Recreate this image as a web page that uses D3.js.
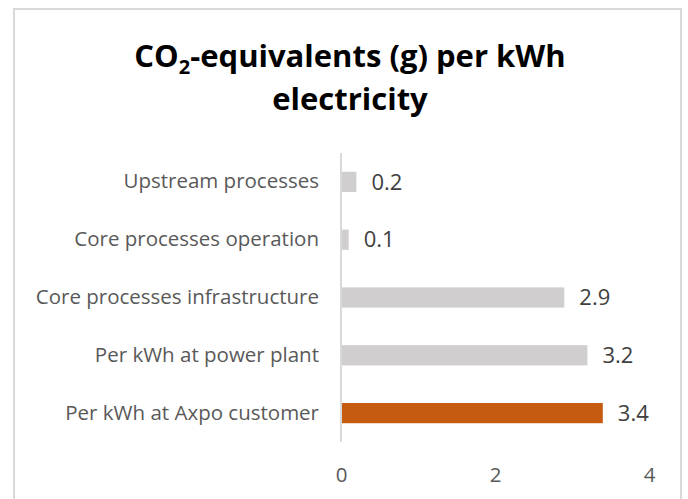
<!DOCTYPE html>
<html>
<head>
<meta charset="utf-8">
<script src="https://cdn.jsdelivr.net/npm/d3@7"></script>
<style>
  body { margin: 0; background: #fff; }
  svg text { font-family: "Open Sans", sans-serif; }
</style>
</head>
<body>
<svg id="chart" width="688" height="499"></svg>
<script>
// chart data, top row first
var categories = [
	"Upstream processes",
	"Core processes operation",
	"Core processes infrastructure",
	"Per kWh at power plant",
	"Per kWh at Axpo customer"
];
var values = [0.2, 0.1, 2.9, 3.2, 3.4];
var barColors = ["#d0cece", "#d0cece", "#d0cece", "#d0cece", "#c55a11"];
var xTicks = [0, 2, 4];

var svg = d3.select("#chart");

// outer chart frame
svg.append("rect")
	.attr("x", 14)
	.attr("y", 9)
	.attr("width", 667)
	.attr("height", 510)
	.attr("fill", "#fff")
	.attr("stroke", "#d9d9d9")
	.attr("stroke-width", 2);

// title, two lines with subscript 2
var title = svg.append("text")
	.attr("text-anchor", "middle")
	.attr("font-weight", 700)
	.attr("font-size", 31)
	.attr("fill", "#000");
var t1 = title.append("tspan").attr("x", 350).attr("y", 67);
t1.append("tspan").text("CO");
t1.append("tspan").attr("font-size", 20).attr("dy", 7).text("2");
t1.append("tspan").attr("dy", -7).text("-equivalents (g) per kWh");
title.append("tspan").attr("x", 350).attr("y", 110).text("electricity");

var x = d3.scaleLinear()
	.domain([0, 4])
	.range([341, 649]);

var y = d3.scaleBand()
	.domain(categories)
	.range([153, 442])
	.paddingInner(0.65)
	.paddingOuter(0.325);

var rows = categories.map(function(c, i) {
	return { name: c, value: values[i], color: barColors[i] };
});

svg.selectAll("rect.bar")
	.data(rows)
	.enter().append("rect")
	.attr("class", "bar")
	.attr("x", x(0))
	.attr("y", function(d) { return y(d.name); })
	.attr("width", function(d) { return x(d.value) - x(0); })
	.attr("height", y.bandwidth())
	.attr("fill", function(d) { return d.color; });

// value labels
svg.selectAll("text.val")
	.data(rows)
	.enter().append("text")
	.attr("class", "val")
	.attr("x", function(d) { return x(d.value) + 15; })
	.attr("y", function(d) { return y(d.name) + y.bandwidth() / 2; })
	.attr("dy", "0.35em")
	.attr("font-size", 22)
	.attr("fill", "#404040")
	.text(function(d) { return d.value.toFixed(1); });

// category axis
var yAxis = svg.append("g")
	.attr("transform", "translate(" + x(0) + ",0)")
	.call(d3.axisLeft(y).tickSize(0).tickPadding(22));
yAxis.select(".domain").remove();
yAxis.selectAll("text")
	.attr("font-size", 20.5)
	.attr("fill", "#595959");

// vertical baseline
svg.append("line")
	.attr("x1", x(0)).attr("x2", x(0))
	.attr("y1", 153).attr("y2", 442)
	.attr("stroke", "#d9d9d9")
	.attr("stroke-width", 2);

// value axis
var xAxis = svg.append("g")
	.attr("transform", "translate(0,475)")
	.call(d3.axisBottom(x).tickValues(xTicks).tickSize(0).tickPadding(0).tickFormat(d3.format("d")));
xAxis.select(".domain").remove();
xAxis.selectAll("text")
	.attr("dy", "0.35em")
	.attr("font-size", 20.5)
	.attr("fill", "#595959");
</script>
</body>
</html>
